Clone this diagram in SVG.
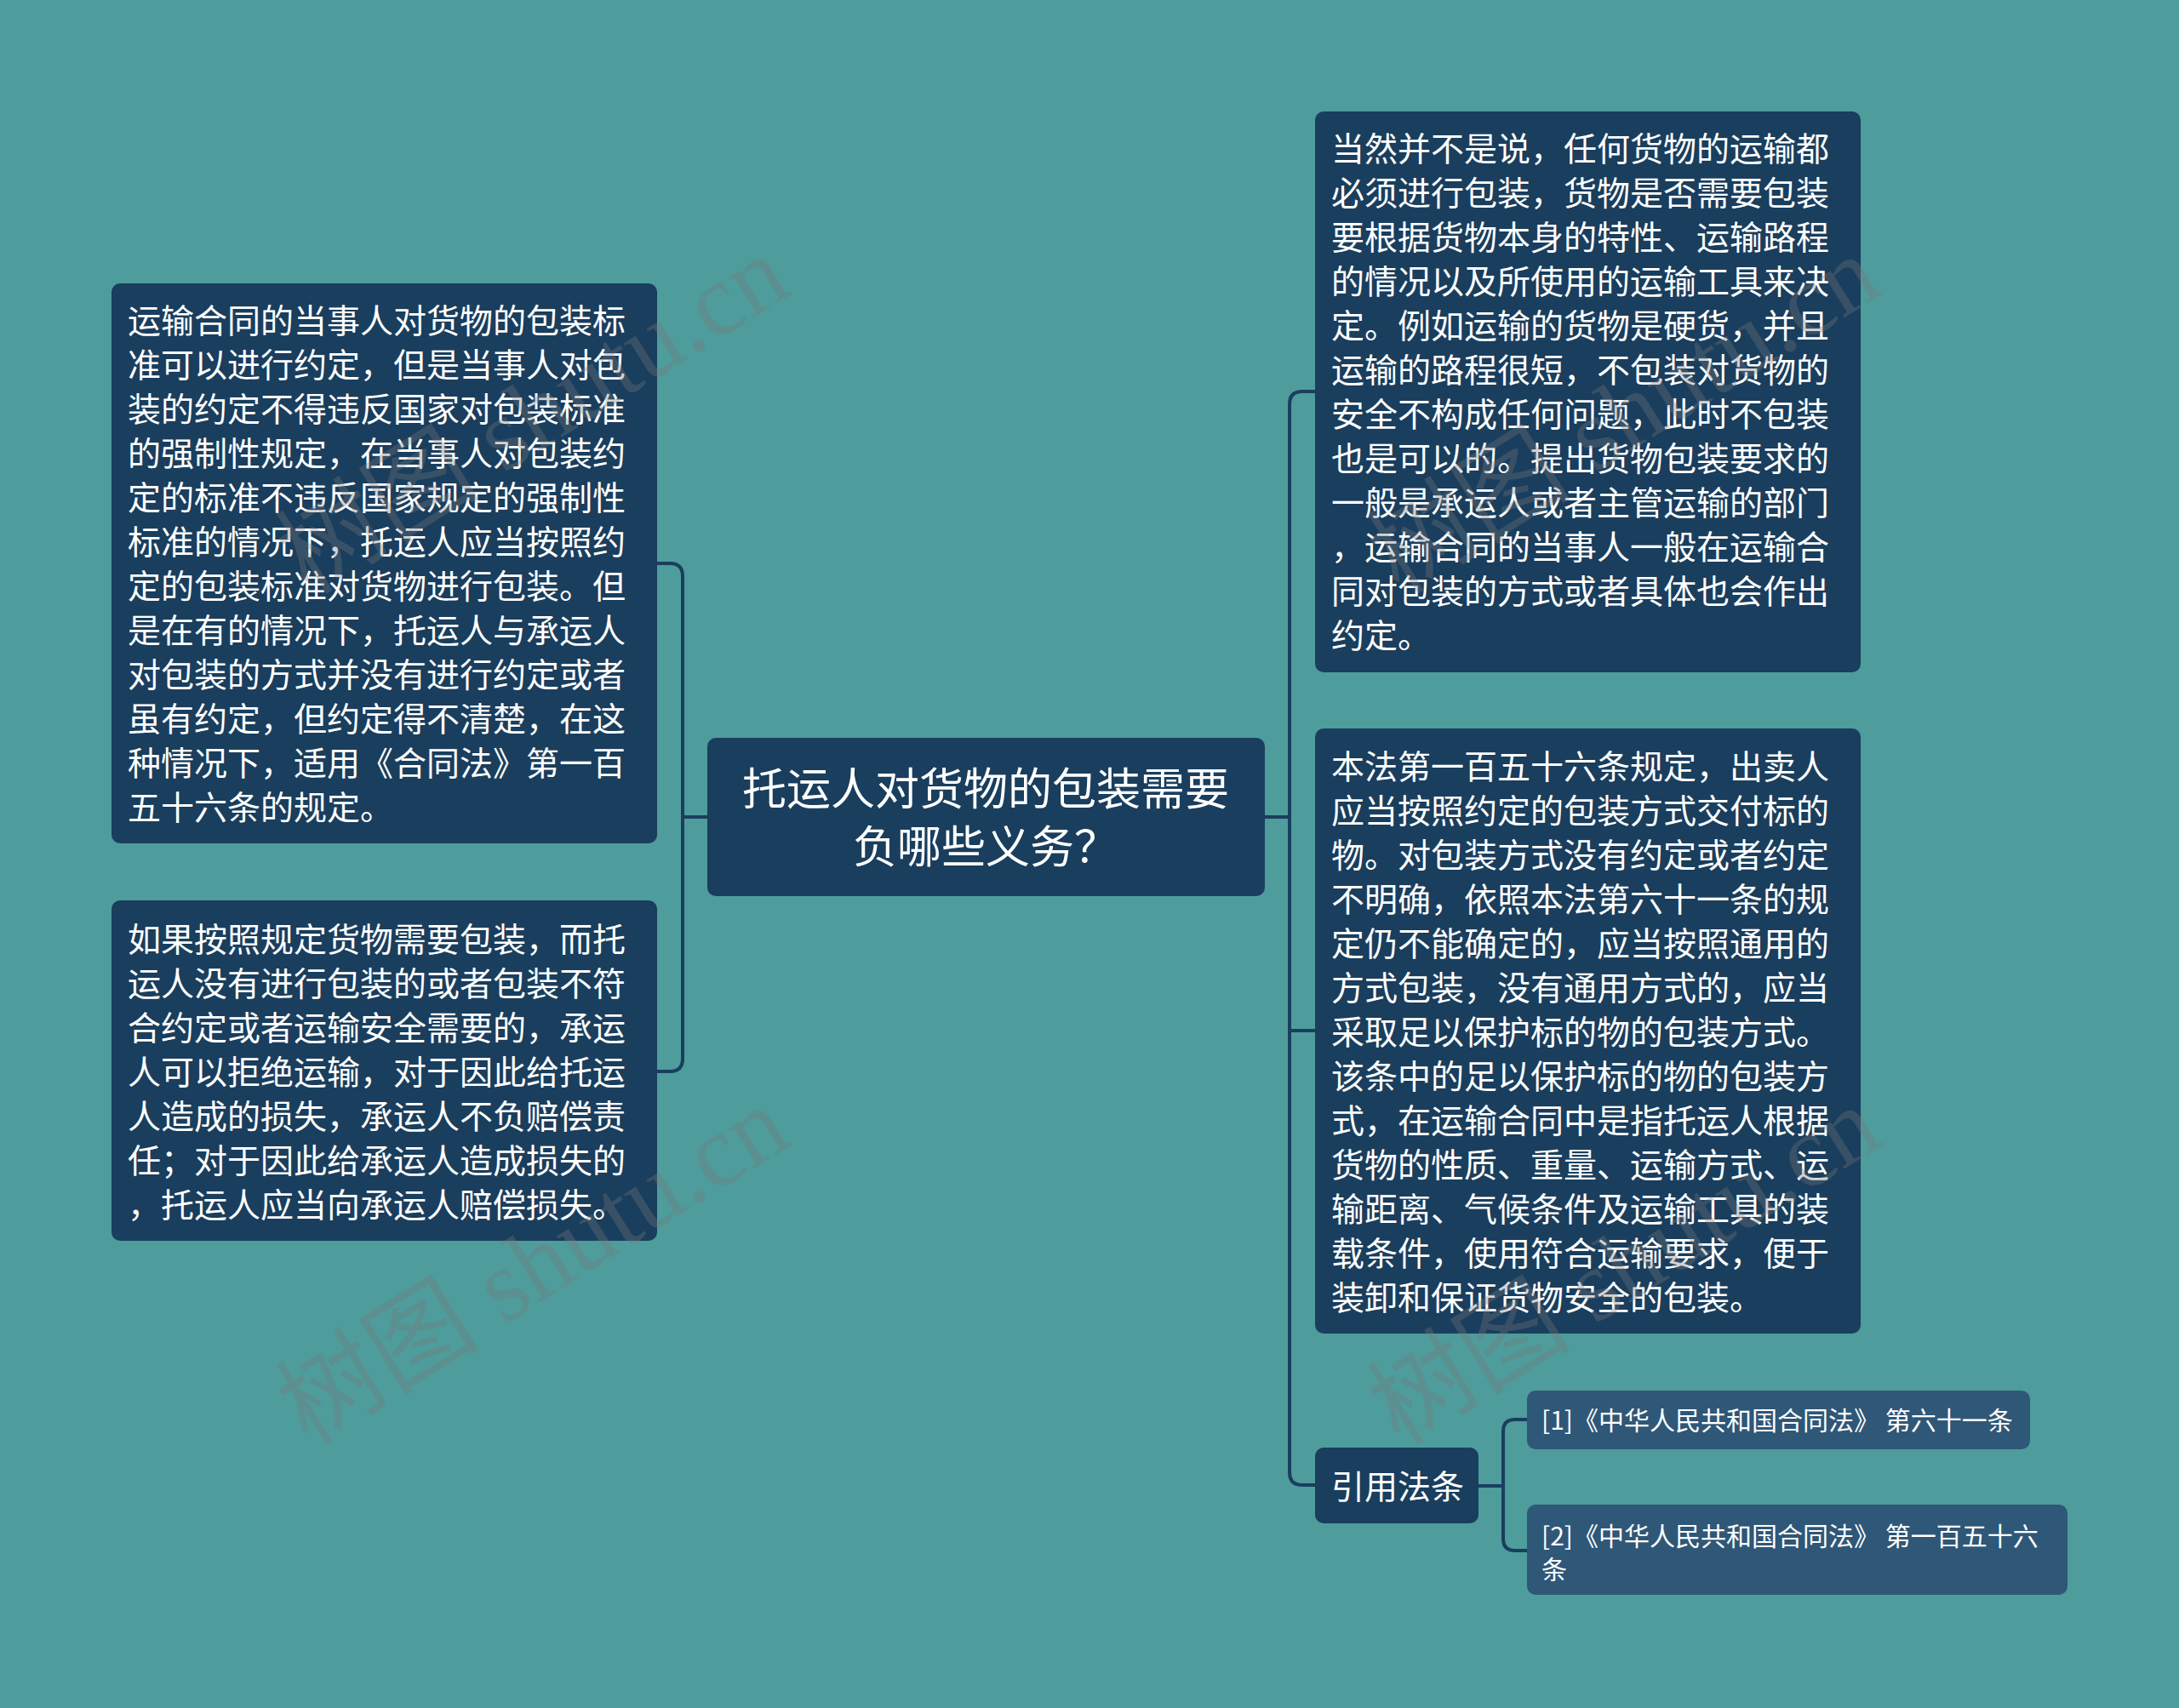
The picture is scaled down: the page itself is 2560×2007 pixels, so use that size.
<svg xmlns="http://www.w3.org/2000/svg" width="2560" height="2007" viewBox="0 0 2560 2007">
<style>
.bg{fill:#4e9c9b}
.n{fill:#1a3e5d}
.r{fill:#2f5777}
.t{fill:#ffffff;font-family:"Noto Sans CJK SC","Noto Sans",sans-serif;font-size:39px}
.c{fill:#ffffff;font-family:"Noto Sans CJK SC","Noto Sans",sans-serif;font-size:52px;text-anchor:middle}
.s{fill:#ffffff;font-family:"Noto Sans CJK SC","Noto Sans",sans-serif;font-size:30px}
.e{fill:none;stroke:#1a3e5d;stroke-width:4}
.w{fill:#7a7a7a;opacity:0.32;font-family:"Liberation Serif","Noto Sans CJK SC",serif;font-size:120px}
</style>
<rect class="bg" x="0" y="0" width="2560" height="2007"/>
<g id="connectors">
<path class="e" d="M831,960 H802"/>
<path class="e" d="M772,662 H787 Q802,662 802,677 V1244 Q802,1259 787,1259 H772"/>
<path class="e" d="M1486,960 H1515"/>
<path class="e" d="M1545,460 H1530 Q1515,460 1515,475 V1730 Q1515,1745 1530,1745 H1545"/>
<path class="e" d="M1515,1211 H1545"/>
<path class="e" d="M1737,1746 H1766"/>
<path class="e" d="M1794,1668 H1780 Q1766,1668 1766,1682 V1808 Q1766,1822 1780,1822 H1794"/>
</g>
<g id="center">
<rect class="n" x="831" y="867" width="655" height="186" rx="10"/>
<text class="c"><tspan x="1158" y="946">托运人对货物的包装需要</tspan><tspan x="1158" y="1014">负哪些义务？</tspan></text>
</g>
<g id="left1">
<rect class="n" x="131" y="333" width="641" height="658" rx="10"/>
<text class="t">
<tspan x="150" y="391">运输合同的当事人对货物的包装标</tspan>
<tspan x="150" y="443">准可以进行约定，但是当事人对包</tspan>
<tspan x="150" y="495">装的约定不得违反国家对包装标准</tspan>
<tspan x="150" y="547">的强制性规定，在当事人对包装约</tspan>
<tspan x="150" y="599">定的标准不违反国家规定的强制性</tspan>
<tspan x="150" y="651">标准的情况下，托运人应当按照约</tspan>
<tspan x="150" y="703">定的包装标准对货物进行包装。但</tspan>
<tspan x="150" y="755">是在有的情况下，托运人与承运人</tspan>
<tspan x="150" y="807">对包装的方式并没有进行约定或者</tspan>
<tspan x="150" y="859">虽有约定，但约定得不清楚，在这</tspan>
<tspan x="150" y="911">种情况下，适用《合同法》第一百</tspan>
<tspan x="150" y="963">五十六条的规定。</tspan>
</text>
</g>
<g id="left2">
<rect class="n" x="131" y="1058" width="641" height="400" rx="10"/>
<text class="t">
<tspan x="150" y="1118">如果按照规定货物需要包装，而托</tspan>
<tspan x="150" y="1170">运人没有进行包装的或者包装不符</tspan>
<tspan x="150" y="1222">合约定或者运输安全需要的，承运</tspan>
<tspan x="150" y="1274">人可以拒绝运输，对于因此给托运</tspan>
<tspan x="150" y="1326">人造成的损失，承运人不负赔偿责</tspan>
<tspan x="150" y="1378">任；对于因此给承运人造成损失的</tspan>
<tspan x="150" y="1430">，托运人应当向承运人赔偿损失。</tspan>
</text>
</g>
<g id="right1">
<rect class="n" x="1545" y="131" width="641" height="659" rx="10"/>
<text class="t">
<tspan x="1564" y="189">当然并不是说，任何货物的运输都</tspan>
<tspan x="1564" y="241">必须进行包装，货物是否需要包装</tspan>
<tspan x="1564" y="293">要根据货物本身的特性、运输路程</tspan>
<tspan x="1564" y="345">的情况以及所使用的运输工具来决</tspan>
<tspan x="1564" y="397">定。例如运输的货物是硬货，并且</tspan>
<tspan x="1564" y="449">运输的路程很短，不包装对货物的</tspan>
<tspan x="1564" y="501">安全不构成任何问题，此时不包装</tspan>
<tspan x="1564" y="553">也是可以的。提出货物包装要求的</tspan>
<tspan x="1564" y="605">一般是承运人或者主管运输的部门</tspan>
<tspan x="1564" y="657">，运输合同的当事人一般在运输合</tspan>
<tspan x="1564" y="709">同对包装的方式或者具体也会作出</tspan>
<tspan x="1564" y="761">约定。</tspan>
</text>
</g>
<g id="right2">
<rect class="n" x="1545" y="856" width="641" height="711" rx="10"/>
<text class="t">
<tspan x="1564" y="915">本法第一百五十六条规定，出卖人</tspan>
<tspan x="1564" y="967">应当按照约定的包装方式交付标的</tspan>
<tspan x="1564" y="1019">物。对包装方式没有约定或者约定</tspan>
<tspan x="1564" y="1071">不明确，依照本法第六十一条的规</tspan>
<tspan x="1564" y="1123">定仍不能确定的，应当按照通用的</tspan>
<tspan x="1564" y="1175">方式包装，没有通用方式的，应当</tspan>
<tspan x="1564" y="1227">采取足以保护标的物的包装方式。</tspan>
<tspan x="1564" y="1279">该条中的足以保护标的物的包装方</tspan>
<tspan x="1564" y="1331">式，在运输合同中是指托运人根据</tspan>
<tspan x="1564" y="1383">货物的性质、重量、运输方式、运</tspan>
<tspan x="1564" y="1435">输距离、气候条件及运输工具的装</tspan>
<tspan x="1564" y="1487">载条件，使用符合运输要求，便于</tspan>
<tspan x="1564" y="1539">装卸和保证货物安全的包装。</tspan>
</text>
</g>
<g id="cite">
<rect class="n" x="1545" y="1701" width="192" height="89" rx="10"/>
<text class="t" x="1564" y="1761">引用法条</text>
</g>
<g id="ref1">
<rect class="r" x="1794" y="1634" width="591" height="69" rx="10"/>
<text class="s" x="1811" y="1680">[1]《中华人民共和国合同法》 第六十一条</text>
</g>
<g id="ref2">
<rect class="r" x="1794" y="1768" width="635" height="106" rx="10"/>
<text class="s"><tspan x="1811" y="1816">[2]《中华人民共和国合同法》 第一百五十六</tspan><tspan x="1811" y="1855">条</tspan></text>
</g>
<g id="watermarks">
<text class="w" transform="translate(362,700) rotate(-32)">树图 shutu.cn</text>
<text class="w" transform="translate(362,1700) rotate(-32)">树图 shutu.cn</text>
<text class="w" transform="translate(1644,700) rotate(-32)">树图 shutu.cn</text>
<text class="w" transform="translate(1644,1700) rotate(-32)">树图 shutu.cn</text>
</g>
</svg>
